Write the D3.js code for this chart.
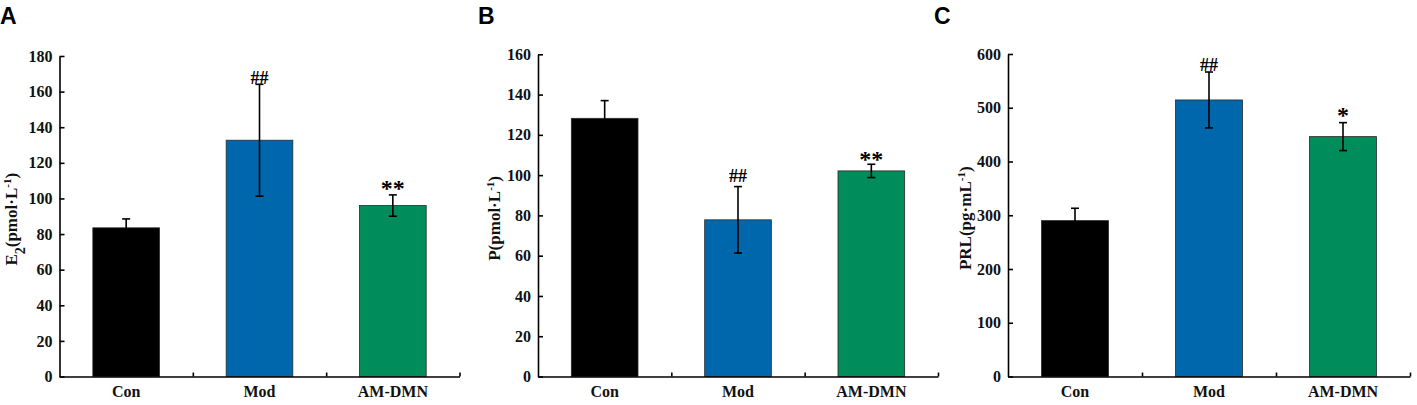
<!DOCTYPE html>
<html>
<head>
<meta charset="utf-8">
<script src="https://cdn.jsdelivr.net/npm/d3@7"></script>
<style>
  body { margin: 0; background: #fff; }
  svg { display: block; }
</style>
</head>
<body>
<svg id="chart" width="1417" height="405"></svg>
<script>
/* global d3 */

// groups
const categories = ['Con', 'Mod', 'AM-DMN']
const barColors = ['#000000', '#0067ad', '#008c5b']

// E2 (pmol/L)
const e2Mean = [83.5, 132.7, 96.0]
const e2Sd = [5.0, 31.4, 6.0]
const e2Marks = ['', '##', '**']
const e2Ticks = [0, 20, 40, 60, 80, 100, 120, 140, 160, 180]

// P (pmol/L)
const pMean = [128.2, 77.8, 102.1]
const pSd = [8.8, 16.5, 3.3]
const pMarks = ['', '##', '**']
const pTicks = [0, 20, 40, 60, 80, 100, 120, 140, 160]

// PRL (pg/mL)
const prlMean = [290, 514.5, 446.3]
const prlSd = [23, 52, 26]
const prlMarks = ['', '##', '*']
const prlTicks = [0, 100, 200, 300, 400, 500, 600]

const serif = '"Liberation Serif", "Times New Roman", serif'
const sans = '"Liberation Sans", Arial, sans-serif'

const svg = d3.select('#chart')

// one panel = letter + y label + bars with error bars
function drawPanel (opt) {
  const { letter, letterX, left, right, top, bottom, mean, sd, marks, ticks, labelX, label, markOffset } = opt
  const g = svg.append('g')

  const x = d3.scaleBand()
    .domain(categories)
    .range([left, right])
    .paddingInner(0.5)
    .paddingOuter(0.25)

  const y = d3.scaleLinear()
    .domain([0, ticks[ticks.length - 1]])
    .range([bottom, top])

  // boundaries between groups, for the small x ticks
  const xb = d3.scaleLinear().domain([0, categories.length]).range([left, right])

  const data = categories.map((c, i) => ({ c, m: mean[i], s: sd[i], mark: marks[i], color: barColors[i] }))

  // bars
  g.append('g')
    .selectAll('rect')
    .data(data)
    .join('rect')
    .attr('x', d => x(d.c))
    .attr('width', x.bandwidth())
    .attr('y', d => y(d.m))
    .attr('height', d => y(0) - y(d.m))
    .attr('fill', d => d.color)
    .attr('stroke', '#2a2a2a')
    .attr('stroke-width', 0.8)

  // error bars
  const cap = 4
  const err = g.append('g')
    .attr('stroke', '#000')
    .attr('stroke-width', 1.6)
    .selectAll('g')
    .data(data)
    .join('g')
  err.append('line')
    .attr('x1', d => x(d.c) + x.bandwidth() / 2)
    .attr('x2', d => x(d.c) + x.bandwidth() / 2)
    .attr('y1', d => y(d.m - d.s))
    .attr('y2', d => y(d.m + d.s))
  err.append('line')
    .attr('x1', d => x(d.c) + x.bandwidth() / 2 - cap)
    .attr('x2', d => x(d.c) + x.bandwidth() / 2 + cap)
    .attr('y1', d => y(d.m + d.s))
    .attr('y2', d => y(d.m + d.s))
  err.append('line')
    .attr('x1', d => x(d.c) + x.bandwidth() / 2 - cap)
    .attr('x2', d => x(d.c) + x.bandwidth() / 2 + cap)
    .attr('y1', d => y(d.m - d.s))
    .attr('y2', d => y(d.m - d.s))

  // significance marks
  g.append('g')
    .selectAll('text')
    .data(data.filter(d => d.mark))
    .join('text')
    .attr('x', d => x(d.c) + x.bandwidth() / 2)
    .attr('y', d => y(d.m + d.s) - (d.mark[0] === '*' ? markOffset[1] : markOffset[0]))
    .attr('text-anchor', 'middle')
    .style('font-family', serif)
    .style('font-weight', 'bold')
    .style('font-size', d => d.mark[0] === '*' ? '24px' : '18px')
    .text(d => d.mark)

  // y axis, ticks pointing inward
  g.append('g')
    .attr('transform', `translate(${left},0)`)
    .call(d3.axisLeft(y).tickValues(ticks).tickSize(-5).tickSizeOuter(0).tickPadding(7))
    .call(a => a.selectAll('path, line').attr('stroke', '#000').attr('stroke-width', 1.6))
    .call(a => a.selectAll('text')
      .style('font-family', serif)
      .style('font-weight', 'bold')
      .style('font-size', '16px')
      .attr('fill', '#111'))

  // x axis line with small upward ticks between groups
  g.append('g')
    .attr('transform', `translate(0,${bottom})`)
    .call(d3.axisBottom(xb).tickValues([1, 2, 3]).tickSize(-4).tickSizeOuter(0).tickFormat(''))
    .call(a => a.selectAll('path, line').attr('stroke', '#000').attr('stroke-width', 1.6))

  // category labels
  g.append('g')
    .attr('transform', `translate(0,${bottom})`)
    .call(d3.axisBottom(x).tickSize(0).tickPadding(9))
    .call(a => a.select('.domain').remove())
    .call(a => a.selectAll('text')
      .style('font-family', serif)
      .style('font-weight', 'bold')
      .style('font-size', '16px')
      .attr('fill', '#111'))

  // y label
  const yl = g.append('text')
    .attr('transform', `translate(${labelX},${(top + bottom) / 2 + 3}) rotate(-90)`)
    .attr('text-anchor', 'middle')
    .style('font-family', serif)
    .style('font-weight', 'bold')
    .style('font-size', '17px')
    .attr('fill', '#111')
  label.forEach(part => {
    const t = yl.append('tspan').text(part.t)
    if (part.sub) t.attr('baseline-shift', 'sub').style('font-size', '14px')
    if (part.sup) t.attr('baseline-shift', 'super').style('font-size', '11px')
  })

  // panel letter
  svg.append('text')
    .attr('x', letterX)
    .attr('y', 24)
    .style('font-family', sans)
    .style('font-weight', 'bold')
    .style('font-size', '23px')
    .text(letter)
}

drawPanel({
  letter: 'A', letterX: 0,
  left: 59.5, right: 459.5, top: 56, bottom: 376.5,
  mean: e2Mean, sd: e2Sd, marks: e2Marks, ticks: e2Ticks,
  labelX: 17, markOffset: [0, -1],
  label: [{ t: 'E' }, { t: '2', sub: true }, { t: '(pmol·L' }, { t: '-1', sup: true }, { t: ')' }]
})

drawPanel({
  letter: 'B', letterX: 478,
  left: 538, right: 938, top: 54.3, bottom: 376.5,
  mean: pMean, sd: pSd, marks: pMarks, ticks: pTicks,
  labelX: 500, markOffset: [5, -3],
  label: [{ t: 'P(pmol·L' }, { t: '-1', sup: true }, { t: ')' }]
})

drawPanel({
  letter: 'C', letterX: 934,
  left: 1008, right: 1410, top: 54, bottom: 376.5,
  mean: prlMean, sd: prlSd, marks: prlMarks, ticks: prlTicks,
  labelX: 971, markOffset: [1, 0],
  label: [{ t: 'PRL(pg·mL' }, { t: '-1', sup: true }, { t: ')' }]
})
</script>
</body>
</html>
